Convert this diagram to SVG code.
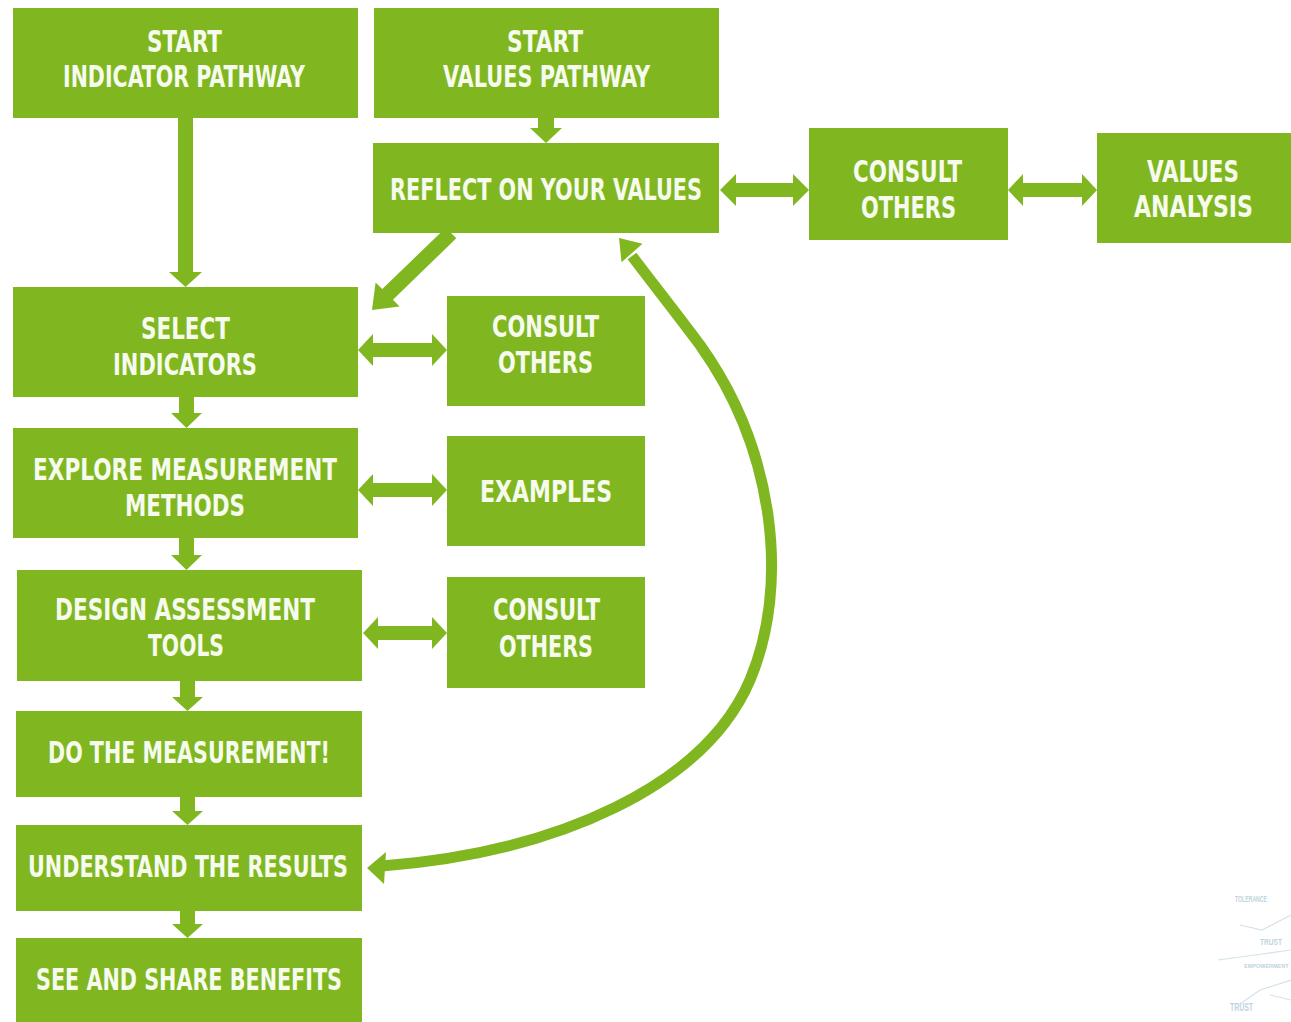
<svg xmlns="http://www.w3.org/2000/svg" width="1291" height="1022" viewBox="0 0 1291 1022">
<style>
.box{fill:#80b721}
.lbl{fill:#f6fbee;font-family:"Liberation Sans Narrow","DejaVu Sans Condensed","Liberation Sans",sans-serif;font-weight:bold;font-size:31px;text-anchor:middle}
.arw{fill:#80b721}
.crv{fill:none;stroke:#80b721;stroke-width:11}
.wc{fill:#a9c6d3;font-family:"Liberation Sans Narrow","Liberation Sans",sans-serif;font-weight:bold;opacity:0.75}
.wl{stroke:#c9dbe3;stroke-width:1.2;fill:none;opacity:0.8}
</style>
<rect width="1291" height="1022" fill="#ffffff"/>

<g id="connectors">
<polygon class="arw" points="178,117 193,117 193,272 202,272 185.5,287 169,272 178,272"/>
<polygon class="arw" points="538,117 554,117 554,128 562,128 546,143 530,128 538,128"/>
<polygon class="arw" points="179,396 194,396 194,413 202,413 186.5,428 171,413 179,413"/>
<polygon class="arw" points="179,537 194,537 194,555 202,555 186.5,570 171,555 179,555"/>
<polygon class="arw" points="180,680 195,680 195,697 203,697 187.5,711 172,697 180,697"/>
<polygon class="arw" points="180,796 195,796 195,811 203,811 187.5,825 172,811 180,811"/>
<polygon class="arw" points="180,910 195,910 195,924 203,924 187.5,938 172,924 180,924"/>
<polygon class="arw" points="720,190 736,174 736,183 793,183 793,174 809,190 793,206 793,197 736,197 736,206"/>
<polygon class="arw" points="1008,190 1023,174 1023,183 1082,183 1082,174 1097,190 1082,206 1082,197 1023,197 1023,206"/>
<polygon class="arw" points="358,350 373,334 373,343 432,343 432,334 447,350 432,366 432,357 373,357 373,366"/>
<polygon class="arw" points="358,490 373,474 373,483 432,483 432,474 447,490 432,506 432,497 373,497 373,506"/>
<polygon class="arw" points="363,633 378,617 378,626 432,626 432,617 447,633 432,649 432,640 378,640 378,649"/>
<polygon class="arw" points="445.7,227.7 456.3,238.3 392.9,299.7 399.6,306.4 372,310 375.6,282.4 382.3,289.1"/>
<path class="crv" d="M 382 866 C 560 852 705 785 750 680 C 790 585 775 450 700 345 C 670 305 650 280 632 256"/>
<polygon class="arw" points="619,238 642.5,243.8 621.5,262.2"/>
<polygon class="arw" points="367,868 386,852 384,884"/>
</g>

<g id="n-start-indicator"><rect class="box" x="13" y="8" width="345" height="110"/>
<text class="lbl" x="184.5" y="52" textLength="75" lengthAdjust="spacingAndGlyphs">START</text>
<text class="lbl" x="184" y="87" textLength="242" lengthAdjust="spacingAndGlyphs">INDICATOR PATHWAY</text></g>

<g id="n-start-values"><rect class="box" x="374" y="8" width="345" height="110"/>
<text class="lbl" x="545" y="52" textLength="76" lengthAdjust="spacingAndGlyphs">START</text>
<text class="lbl" x="546.5" y="87" textLength="207" lengthAdjust="spacingAndGlyphs">VALUES PATHWAY</text></g>

<g id="n-reflect"><rect class="box" x="373" y="143" width="346" height="90"/>
<text class="lbl" x="546" y="200" textLength="312" lengthAdjust="spacingAndGlyphs">REFLECT ON YOUR VALUES</text></g>

<g id="n-consult-top"><rect class="box" x="809" y="128" width="199" height="112"/>
<text class="lbl" x="907.5" y="182" textLength="109" lengthAdjust="spacingAndGlyphs">CONSULT</text>
<text class="lbl" x="908.5" y="218" textLength="95" lengthAdjust="spacingAndGlyphs">OTHERS</text></g>

<g id="n-values-analysis"><rect class="box" x="1097" y="133" width="194" height="110"/>
<text class="lbl" x="1193" y="182" textLength="92" lengthAdjust="spacingAndGlyphs">VALUES</text>
<text class="lbl" x="1193.5" y="217" textLength="119" lengthAdjust="spacingAndGlyphs">ANALYSIS</text></g>

<g id="n-select"><rect class="box" x="13" y="287" width="345" height="110"/>
<text class="lbl" x="185.5" y="339" textLength="89" lengthAdjust="spacingAndGlyphs">SELECT</text>
<text class="lbl" x="185" y="375" textLength="144" lengthAdjust="spacingAndGlyphs">INDICATORS</text></g>

<g id="n-consult-1"><rect class="box" x="447" y="296" width="198" height="110"/>
<text class="lbl" x="545.5" y="337" textLength="107" lengthAdjust="spacingAndGlyphs">CONSULT</text>
<text class="lbl" x="545.5" y="373" textLength="95" lengthAdjust="spacingAndGlyphs">OTHERS</text></g>

<g id="n-explore"><rect class="box" x="13" y="428" width="345" height="110"/>
<text class="lbl" x="185" y="480" textLength="304" lengthAdjust="spacingAndGlyphs">EXPLORE MEASUREMENT</text>
<text class="lbl" x="185" y="516" textLength="120" lengthAdjust="spacingAndGlyphs">METHODS</text></g>

<g id="n-examples"><rect class="box" x="447" y="436" width="198" height="110"/>
<text class="lbl" x="546" y="502" textLength="132" lengthAdjust="spacingAndGlyphs">EXAMPLES</text></g>

<g id="n-design"><rect class="box" x="17" y="570" width="345" height="111"/>
<text class="lbl" x="185" y="620" textLength="260" lengthAdjust="spacingAndGlyphs">DESIGN ASSESSMENT</text>
<text class="lbl" x="186" y="656" textLength="76" lengthAdjust="spacingAndGlyphs">TOOLS</text></g>

<g id="n-consult-2"><rect class="box" x="447" y="577" width="198" height="111"/>
<text class="lbl" x="546.5" y="620" textLength="107" lengthAdjust="spacingAndGlyphs">CONSULT</text>
<text class="lbl" x="546" y="657" textLength="94" lengthAdjust="spacingAndGlyphs">OTHERS</text></g>

<g id="n-do"><rect class="box" x="16" y="711" width="346" height="86"/>
<text class="lbl" x="189" y="763" textLength="282" lengthAdjust="spacingAndGlyphs">DO THE MEASUREMENT!</text></g>

<g id="n-understand"><rect class="box" x="16" y="825" width="346" height="86"/>
<text class="lbl" x="188" y="877" textLength="320" lengthAdjust="spacingAndGlyphs">UNDERSTAND THE RESULTS</text></g>

<g id="n-see"><rect class="box" x="16" y="938" width="346" height="90"/>
<text class="lbl" x="189" y="990" textLength="306" lengthAdjust="spacingAndGlyphs">SEE AND SHARE BENEFITS</text></g>

<g id="wordcloud">
<path class="wl" d="M1291 915 L1262 930 L1240 925 M1291 950 L1255 955 L1218 960 M1291 980 L1260 990 L1240 1004 M1291 1000 L1270 995"/>
<text class="wc" x="1235" y="902" font-size="9" textLength="32" lengthAdjust="spacingAndGlyphs">TOLERANCE</text>
<text class="wc" x="1260" y="945" font-size="9" textLength="22" lengthAdjust="spacingAndGlyphs">TRUST</text>
<text class="wc" x="1244" y="968" font-size="5.5">EMPOWERMENT</text>
<text class="wc" x="1230" y="1011" font-size="10" textLength="23" lengthAdjust="spacingAndGlyphs">TRUST</text>
</g>
</svg>
